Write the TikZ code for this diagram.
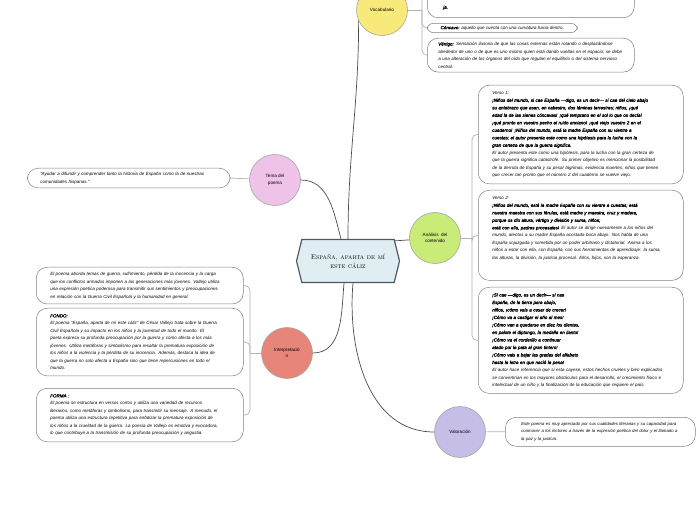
\documentclass[tikz,border=0pt]{standalone}
\usepackage{fontspec}
\usetikzlibrary{shapes.symbols}
\newfontfamily\mapfont[BoldFont={Liberation Sans},BoldFeatures={FakeBold=1.5},BoldItalicFont={Liberation Sans Italic},BoldItalicFeatures={FakeBold=1.5}]{Liberation Sans}
\definecolor{amarillo}{HTML}{F7EA7A}
\definecolor{rosa}{HTML}{EFC3E8}
\definecolor{verde}{HTML}{C9EC78}
\definecolor{salmon}{HTML}{E8857A}
\definecolor{lila}{HTML}{C6BEE6}
\definecolor{celeste}{HTML}{E0EEF4}
\definecolor{pizarra}{HTML}{4C5963}
\begin{document}
\begin{tikzpicture}[x=1pt,y=1pt,
  idea/.style={circle,draw=black!35,line width=0.6pt,minimum size=51pt,inner sep=1pt,align=center,font=\mapfont\fontsize{4.6}{6.5}\selectfont},
  hoja/.style={draw=black!50,line width=0.5pt,rounded corners=11pt,fill=white,align=left,font=\mapfont\itshape\fontsize{4.5}{7.5}\selectfont,inner ysep=5pt},
  rama/.style={draw=black!70,line width=0.7pt},
  ramita/.style={draw=black!30,line width=0.7pt,rounded corners=5pt}]
\useasboundingbox (0,0) rectangle (696,520);
\clip (0,0) rectangle (696,520);
\fill[white] (0,0) rectangle (696,520);

\node (centro) at (348,259) [signal,signal to=east and west,signal pointer angle=152,draw=pizarra,fill=celeste,line width=1.2pt,minimum width=103pt,minimum height=43pt,inner sep=0pt,align=center,font=\scshape\fontsize{7}{9}\selectfont] {España, aparta de mí\\este cáliz};

\node (voc) at (382,510) [idea,fill=amarillo] {Vocabulario};
\node (tema) at (275,340) [idea,fill=rosa] {Tema del\\poema};
\node (ana) at (435,282) [idea,fill=verde] {Análisis \ del\\contenido};
\node (interp) at (287,167) [idea,fill=salmon] {Interpretació\\n};
\node (val) at (460,88) [idea,fill=lila] {Valoración};

\draw[rama] (centro.north) to[out=90,in=-90] (voc.205);
\draw[rama] ([xshift=-7pt]centro.north) to[out=105,in=0] (tema.east);
\draw[rama] ([yshift=-2pt]centro.north east) -- (ana);
\draw[rama] ([xshift=-4pt]centro.south) to[out=-95,in=0] (interp.east);
\draw[rama] ([xshift=5pt]centro.south) to[out=-95,in=180] (val.west);

% vocabulario
\node (vA) at (427,502) [hoja,anchor=south west,text width=185pt,inner xsep=11pt,inner ysep=8pt] {\mbox{}\\\mbox{}\\\mbox{}\\\mbox{}\\\hspace*{5pt}\bfseries ja.};
\node (vB) at (427,492) [hoja,anchor=west,rounded corners=6pt,minimum width=150pt,inner xsep=10pt,inner ysep=2.5pt] {{\bfseries Cóncavo:} aquello que cuenta con una curvatura hacia dentro.};
\node (vC) at (427,482) [hoja,anchor=north west,text width=185pt,inner xsep=11pt,inner ysep=4pt] {{\bfseries Vértigo:} Sensación ilusoria de que las cosas externas están rotando o desplazándose\\alrededor de uno o de que es uno mismo quien está dando vueltas en el espacio; se debe\\a una alteración de los órganos del oído que regulan el equilibrio o del sistema nervioso\\central.};
\coordinate (vj) at (422,510);
\draw[ramita] (voc.east) -- (vj);
\draw[ramita] (vj) |- (vA.west);
\draw[ramita] (vj) |- (vB.west);
\draw[ramita] (vj) |- (vC.west);

% tema
\node (tm) at (27,352) [hoja,anchor=north west,text width=177pt,inner xsep=13pt,inner ysep=4pt] {“Ayudar a difundir y comprender tanto la historia de España como la de nuestras\\comunidades hispanas.”};
\draw[ramita] (tema) -- (tm.east);

% analisis
\node (v1) at (478,435) [hoja,anchor=north west,text width=177pt,inner xsep=14pt,inner ysep=6pt] {Verso 1:\\\bfseries
¡Niños del mundo, si cae España —digo, es un decir— si cae del cielo abajo\\
su antebrazo que asen, en cabestro, dos láminas terrestres; niños, ¡qué\\
edad la de las sienes cóncavas! ¡qué temprano en el sol lo que os decía!\\
¡qué pronto en vuestro pecho el ruido anciano! ¡qué viejo vuestro 2 en el\\
cuaderno! ¡Niños del mundo, está la madre España con su vientre a\\
cuestas; el autor presenta este como una hipótesis para la lucha con la\\
gran certeza de que la guerra significa.\\\mdseries
El autor presenta este como una hipótesis, para la lucha con la gran certeza de\\
que la guerra significa catástrofe. Su primer objetivo es mencionar la posibilidad\\
de la derrota de España y su pesar lágrimas, evidencia muertes, niños que tienen\\
que crecer tan pronto que el número 2 del cuaderno se vuelve viejo.};
\node (v2) at (478,330) [hoja,anchor=north west,text width=177pt,inner xsep=14pt,inner ysep=6pt] {Verso 2:\\\bfseries
¡Niños del mundo, está la madre España con su vientre a cuestas; está\\
nuestra maestra con sus férulas, está madre y maestra, cruz y madera,\\
porque os dio altura, vértigo y división y suma, niños;\\
está con ella, padres procesales! \mdseries El autor se dirige nuevamente a los niños del\\
mundo, atentos a su madre España acostada boca abajo. Nos habla de una\\
España sojuzgada y sometida por un poder arbitrario y dictatorial. Anima a los\\
niños a estar con ella, con España, con sus herramientas de aprendizaje: la suma,\\
las alturas, la división, la justicia procesal. Ellos, hijos, son la esperanza.\\
\mbox{}\\\mbox{}};
\node (v3) at (478,233) [hoja,anchor=north west,text width=177pt,inner xsep=14pt,inner ysep=6pt] {\bfseries
¡Si cae —digo, es un decir— si cae\\
España, de la tierra para abajo,\\
niños, ¡cómo vais a cesar de crecer!\\
¡Cómo va a castigar el año al mes!\\
¡Cómo van a quedarse en diez los dientes,\\
en palote el diptongo, la medalla en llanto!\\
¡Cómo va el corderillo a continuar\\
atado por la pata al gran tintero!\\
¡Cómo vais a bajar las gradas del alfabeto\\
hasta la letra en que nació la pena!\\\mdseries
El autor hace referencia que si esta cayese, estos hechos crueles y bien explicados\\
se convertirían en los mayores obstáculos para el desarrollo, el crecimiento físico e\\
intelectual de un niño y la finalización de la educación que requiere el país.};
\coordinate (aj) at (472,282);
\draw[ramita] (ana.east) -- (aj);
\draw[ramita] (aj) |- (v1.west);
\draw[ramita] (aj) |- (v2.west);
\draw[ramita] (aj) |- (v3.west);

% interpretacion
\node (i1) at (36,253) [hoja,anchor=north west,text width=179pt,inner xsep=14pt,inner ysep=5pt] {El poema aborda temas de guerra, sufrimiento, pérdida de la inocencia y la carga\\
que los conflictos armados imponen a las generaciones más jóvenes. Vallejo utiliza\\
una expresión poética poderosa para transmitir sus sentimientos y preocupaciones\\
en relación con la Guerra Civil Española y la humanidad en general.};
\node (i2) at (36,212) [hoja,anchor=north west,text width=179pt,inner xsep=14pt,inner ysep=6pt] {{\bfseries FONDO:}\\
El poema “España, aparta de mí este cáliz” de César Vallejo trata sobre la Guerra\\
Civil Española y su impacto en los niños y la juventud de todo el mundo. El\\
poeta expresa su profunda preocupación por la guerra y cómo afecta a los más\\
jóvenes. Utiliza metáforas y simbolismo para resaltar la prematura exposición de\\
los niños a la violencia y la pérdida de su inocencia. Además, destaca la idea de\\
que la guerra no solo afecta a España sino que tiene repercusiones en todo el\\
mundo.};
\node (i3) at (36,132) [hoja,anchor=north west,text width=179pt,inner xsep=14pt,inner ysep=6pt] {{\bfseries FORMA :}\\
El poema se estructura en versos cortos y utiliza una variedad de recursos\\
literarios, como metáforas y simbolismo, para transmitir su mensaje. A menudo, el\\
poema utiliza una estructura repetitiva para enfatizar la prematura exposición de\\
los niños a la crueldad de la guerra. La poesía de Vallejo es emotiva y evocadora,\\
lo que contribuye a la transmisión de su profunda preocupación y angustia.};
\coordinate (ij) at (250,167);
\draw[ramita] (interp.west) -- (ij);
\draw[ramita] (ij) |- (i1.east);
\draw[ramita] (ij) |- (i2.east);
\draw[ramita] (ij) |- (i3.east);

% valoracion
\node (vl) at (505,103) [hoja,anchor=north west,text width=174pt,inner xsep=8pt,inner ysep=5pt,font=\mapfont\itshape\fontsize{4.3}{7.5}\selectfont] {\hspace*{8pt}Este poema es muy apreciado por sus cualidades literarias y su capacidad para\\
\hspace*{8pt}conmover a los lectores a través de la expresión poética del dolor y el llamado a\\
\hspace*{8pt}la paz y la justicia.};
\draw[ramita] (val) -- (vl.west);
\end{tikzpicture}
\end{document}
